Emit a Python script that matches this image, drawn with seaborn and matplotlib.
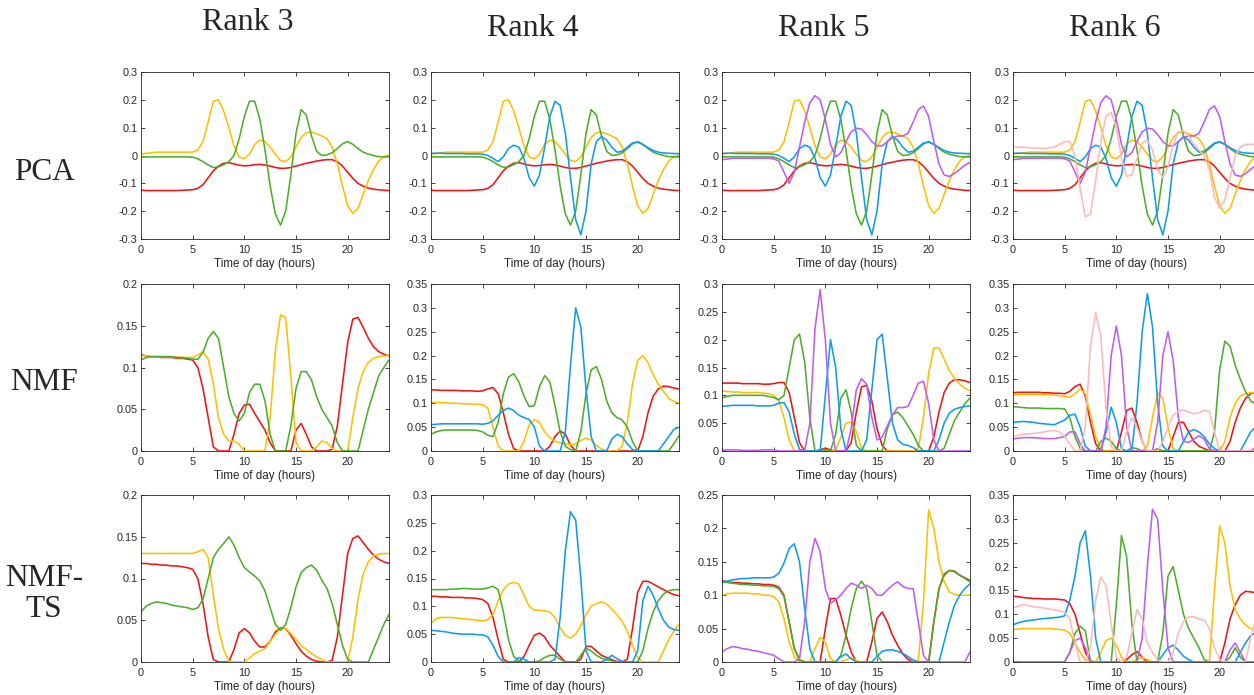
import numpy as np
import pandas as pd
import matplotlib
matplotlib.use("Agg")
import matplotlib.pyplot as plt
from matplotlib.ticker import FuncFormatter
import seaborn as sns

# sampling grid: every half hour
hours = np.arange(0, 24.5, 0.5)

# ---- PCA components (same components reused for every rank) ----
pca_red = [-0.125, -0.126, -0.126, -0.126, -0.126, -0.126, -0.126, -0.126, -0.125, -0.124,
           -0.123, -0.118, -0.105, -0.08, -0.055, -0.038, -0.028, -0.026, -0.03, -0.035,
           -0.037, -0.036, -0.033, -0.032, -0.034, -0.038, -0.043, -0.046, -0.046, -0.043,
           -0.038, -0.033, -0.028, -0.024, -0.02, -0.017, -0.015, -0.015, -0.022, -0.038,
           -0.06, -0.082, -0.1, -0.11, -0.117, -0.121, -0.123, -0.125, -0.126]
pca_yellow = [0.005, 0.008, 0.01, 0.012, 0.012, 0.012, 0.012, 0.012, 0.012, 0.012,
              0.012, 0.02, 0.05, 0.12, 0.195, 0.2, 0.16, 0.1, 0.035, -0.005,
              -0.012, 0.005, 0.04, 0.055, 0.05, 0.03, 0.005, -0.018, -0.022, -0.005,
              0.03, 0.065, 0.082, 0.084, 0.078, 0.07, 0.06, 0.03, -0.03, -0.11,
              -0.18, -0.208, -0.19, -0.14, -0.09, -0.05, -0.02, -0.005, 0.002]
pca_green = [-0.005, -0.005, -0.005, -0.005, -0.005, -0.005, -0.005, -0.005, -0.005, -0.005,
             -0.006, -0.012, -0.022, -0.034, -0.043, -0.041, -0.033, -0.022, 0.0, 0.06,
             0.14, 0.195, 0.195, 0.13, 0.02, -0.11, -0.21, -0.25, -0.2, -0.07,
             0.08, 0.165, 0.145, 0.07, 0.015, 0.0, 0.002, 0.01, 0.025, 0.042,
             0.05, 0.04, 0.025, 0.012, 0.005, 0.0, -0.004, -0.005, -0.005]
pca_blue = [0.008, 0.008, 0.008, 0.007, 0.007, 0.007, 0.007, 0.006, 0.006, 0.006,
            0.005, 0.0, -0.01, -0.022, -0.005, 0.025, 0.037, 0.03, -0.01, -0.08,
            -0.11, -0.07, 0.03, 0.14, 0.195, 0.18, 0.08, -0.08, -0.23, -0.285,
            -0.2, -0.03, 0.05, 0.068, 0.055, 0.03, 0.012, 0.015, 0.03, 0.045,
            0.048, 0.04, 0.028, 0.018, 0.012, 0.009, 0.008, 0.007, 0.007]
pca_purple = [-0.015, -0.013, -0.01, -0.01, -0.01, -0.01, -0.01, -0.01, -0.01, -0.01,
              -0.012, -0.02, -0.06, -0.1, -0.06, 0.03, 0.12, 0.19, 0.215, 0.2,
              0.13, 0.04, -0.005, 0.01, 0.05, 0.085, 0.098, 0.095, 0.075, 0.05,
              0.035, 0.035, 0.05, 0.065, 0.07, 0.07, 0.08, 0.12, 0.165, 0.178,
              0.14, 0.05, -0.03, -0.07, -0.075, -0.065, -0.05, -0.035, -0.025]
pca_pink = [0.03, 0.03, 0.03, 0.028, 0.027, 0.026, 0.025, 0.027, 0.03, 0.04,
            0.05, 0.05, 0.0, -0.12, -0.22, -0.21, -0.09, 0.05, 0.14, 0.155,
            0.1, -0.01, -0.075, -0.07, -0.01, 0.045, 0.055, 0.02, -0.05, -0.08,
            -0.04, 0.04, 0.085, 0.09, 0.07, 0.04, 0.02, 0.0, -0.05, -0.15,
            -0.19, -0.16, -0.08, 0.0, 0.03, 0.04, 0.04, 0.04, 0.04]

# ---- NMF ----
nmf3_red = [0.115, 0.114, 0.113, 0.113, 0.112, 0.112, 0.112, 0.111, 0.111, 0.11,
            0.109, 0.1, 0.075, 0.04, 0.005, 0.0, 0.0, 0.0, 0.02, 0.045,
            0.055, 0.056, 0.045, 0.035, 0.025, 0.01, 0.0, 0.0, 0.0, 0.0,
            0.025, 0.033, 0.02, 0.005, 0.0, 0.0, 0.0, 0.002, 0.03, 0.08,
            0.13, 0.158, 0.16, 0.148, 0.135, 0.125, 0.119, 0.116, 0.114]
nmf3_yellow = [0.114, 0.114, 0.113, 0.113, 0.113, 0.113, 0.113, 0.112, 0.112, 0.112,
               0.112, 0.115, 0.119, 0.11, 0.08, 0.04, 0.02, 0.012, 0.012, 0.008,
               0.0, 0.0, 0.0, 0.0, 0.0, 0.04, 0.12, 0.163, 0.16, 0.09,
               0.01, 0.0, 0.0, 0.0, 0.005, 0.012, 0.01, 0.003, 0.0, 0.0,
               0.0, 0.04, 0.075, 0.095, 0.106, 0.111, 0.113, 0.114, 0.115]
nmf3_green = [0.109, 0.112, 0.113, 0.113, 0.113, 0.113, 0.113, 0.112, 0.112, 0.111,
              0.11, 0.11, 0.118, 0.135, 0.143, 0.135, 0.1, 0.065, 0.045, 0.036,
              0.045, 0.07, 0.08, 0.08, 0.06, 0.02, 0.0, 0.0, 0.0, 0.03,
              0.075, 0.095, 0.095, 0.085, 0.065, 0.05, 0.04, 0.03, 0.01, 0.0,
              0.0, 0.0, 0.0, 0.025, 0.05, 0.07, 0.09, 0.1, 0.109]

nmf4_red = [0.128, 0.128, 0.127, 0.127, 0.127, 0.127, 0.126, 0.126, 0.126, 0.125,
            0.126, 0.13, 0.133, 0.12, 0.08, 0.035, 0.005, 0.0, 0.0, 0.0,
            0.0, 0.0, 0.0, 0.01, 0.03, 0.042, 0.035, 0.012, 0.0, 0.0,
            0.0, 0.0, 0.0, 0.0, 0.0, 0.0, 0.0, 0.0, 0.0, 0.0,
            0.0, 0.03, 0.08, 0.115, 0.13, 0.136, 0.135, 0.132, 0.13]
nmf4_yellow = [0.102, 0.102, 0.101, 0.101, 0.1, 0.1, 0.099, 0.099, 0.098, 0.098,
               0.097, 0.09, 0.05, 0.01, 0.0, 0.0, 0.0, 0.0, 0.02, 0.055,
               0.066, 0.06, 0.04, 0.028, 0.02, 0.017, 0.015, 0.013, 0.015, 0.022,
               0.027, 0.023, 0.012, 0.004, 0.001, 0.0, 0.0, 0.01, 0.06, 0.14,
               0.19, 0.2, 0.185, 0.16, 0.14, 0.125, 0.11, 0.104, 0.101]
nmf4_green = [0.035, 0.04, 0.043, 0.044, 0.044, 0.044, 0.044, 0.044, 0.044, 0.043,
              0.04, 0.033, 0.03, 0.06, 0.12, 0.155, 0.162, 0.145, 0.115, 0.093,
              0.095, 0.135, 0.158, 0.145, 0.095, 0.04, 0.01, 0.003, 0.0, 0.04,
              0.12, 0.17, 0.177, 0.15, 0.105, 0.08, 0.07, 0.065, 0.05, 0.02,
              0.0, 0.0, 0.0, 0.0, 0.0, 0.0, 0.0, 0.015, 0.032]
nmf4_blue = [0.055, 0.056, 0.057, 0.057, 0.057, 0.057, 0.057, 0.057, 0.057, 0.057,
             0.056, 0.058, 0.063, 0.075, 0.085, 0.09, 0.085, 0.075, 0.07, 0.066,
             0.05, 0.01, 0.0, 0.0, 0.0, 0.0, 0.04, 0.18, 0.3, 0.26,
             0.13, 0.03, 0.0, 0.0, 0.0, 0.025, 0.035, 0.03, 0.015, 0.003,
             0.0, 0.0, 0.0, 0.0, 0.0, 0.015, 0.03, 0.045, 0.05]

nmf5_red = [0.122, 0.122, 0.122, 0.122, 0.121, 0.121, 0.121, 0.121, 0.12, 0.12,
            0.121, 0.123, 0.123, 0.105, 0.06, 0.015, 0.0, 0.0, 0.0, 0.002,
            0.005, 0.002, 0.0, 0.0, 0.0, 0.015, 0.07, 0.115, 0.118, 0.09,
            0.04, 0.01, 0.0, 0.0, 0.0, 0.0, 0.0, 0.0, 0.0, 0.0,
            0.0, 0.025, 0.07, 0.105, 0.122, 0.128, 0.128, 0.126, 0.123]
nmf5_yellow = [0.108, 0.107, 0.106, 0.106, 0.105, 0.105, 0.105, 0.105, 0.104, 0.103,
               0.1, 0.09, 0.06, 0.02, 0.0, 0.0, 0.0, 0.0, 0.0, 0.0,
               0.0, 0.0, 0.0, 0.025, 0.05, 0.052, 0.035, 0.005, 0.0, 0.0,
               0.0, 0.0, 0.0, 0.0, 0.0, 0.0, 0.0, 0.0, 0.005, 0.06,
               0.14, 0.185, 0.185, 0.165, 0.145, 0.13, 0.12, 0.113, 0.108]
nmf5_green = [0.095, 0.098, 0.1, 0.1, 0.1, 0.1, 0.1, 0.1, 0.1, 0.098,
              0.096, 0.092, 0.1, 0.15, 0.2, 0.21, 0.16, 0.06, 0.0, 0.0,
              0.0, 0.0, 0.03, 0.095, 0.11, 0.07, 0.01, 0.0, 0.0, 0.0,
              0.0, 0.0, 0.04, 0.065, 0.07, 0.06, 0.045, 0.03, 0.01, 0.0,
              0.0, 0.0, 0.0, 0.005, 0.03, 0.055, 0.07, 0.085, 0.095]
nmf5_blue = [0.08, 0.081, 0.082, 0.082, 0.082, 0.082, 0.082, 0.081, 0.081, 0.081,
             0.082, 0.086, 0.087, 0.07, 0.03, 0.003, 0.0, 0.0, 0.0, 0.0,
             0.1, 0.2, 0.15, 0.04, 0.0, 0.0, 0.0, 0.0, 0.02, 0.11,
             0.2, 0.21, 0.13, 0.05, 0.02, 0.012, 0.01, 0.006, 0.0, 0.0,
             0.0, 0.0, 0.02, 0.05, 0.068, 0.075, 0.078, 0.08, 0.081]
nmf5_purple = [0.001, 0.002, 0.002, 0.002, 0.001, 0.001, 0.001, 0.001, 0.002, 0.002,
               0.002, 0.0, 0.0, 0.0, 0.0, 0.0, 0.0, 0.05, 0.22, 0.29,
               0.2, 0.05, 0.0, 0.0, 0.0, 0.04, 0.11, 0.13, 0.12, 0.06,
               0.02, 0.025, 0.045, 0.065, 0.078, 0.078, 0.08, 0.1, 0.122, 0.125,
               0.085, 0.02, 0.0, 0.0, 0.0, 0.0, 0.0, 0.0, 0.0]

nmf6_red = [0.122, 0.123, 0.123, 0.123, 0.123, 0.123, 0.122, 0.122, 0.121, 0.121,
            0.12, 0.125, 0.135, 0.14, 0.115, 0.06, 0.015, 0.0, 0.0, 0.0,
            0.0, 0.04, 0.085, 0.09, 0.06, 0.02, 0.0, 0.0, 0.0, 0.0,
            0.0, 0.03, 0.06, 0.06, 0.04, 0.02, 0.01, 0.005, 0.0, 0.0,
            0.0, 0.0, 0.02, 0.06, 0.09, 0.11, 0.12, 0.124, 0.125]
nmf6_yellow = [0.118, 0.118, 0.118, 0.118, 0.118, 0.118, 0.118, 0.118, 0.117, 0.116,
               0.114, 0.113, 0.12, 0.13, 0.12, 0.075, 0.03, 0.005, 0.0, 0.0,
               0.0, 0.0, 0.0, 0.0, 0.0, 0.0, 0.01, 0.07, 0.122, 0.11,
               0.05, 0.005, 0.0, 0.0, 0.0, 0.0, 0.0, 0.0, 0.0, 0.0,
               0.0, 0.02, 0.07, 0.1, 0.115, 0.12, 0.122, 0.123, 0.123]
nmf6_green = [0.093, 0.092, 0.091, 0.09, 0.09, 0.09, 0.089, 0.089, 0.089, 0.089,
              0.088, 0.07, 0.03, 0.005, 0.0, 0.0, 0.0, 0.02, 0.027, 0.02,
              0.005, 0.0, 0.0, 0.007, 0.005, 0.0, 0.0, 0.0, 0.005, 0.0,
              0.0, 0.0, 0.0, 0.0, 0.0, 0.0, 0.0, 0.0, 0.0, 0.04,
              0.17, 0.23, 0.22, 0.18, 0.15, 0.125, 0.105, 0.098, 0.092]
nmf6_blue = [0.06, 0.061, 0.062, 0.061, 0.06, 0.058, 0.057, 0.056, 0.055, 0.06,
             0.065, 0.075, 0.077, 0.05, 0.01, 0.0, 0.0, 0.0, 0.04, 0.092,
             0.06, 0.005, 0.0, 0.0, 0.1, 0.25, 0.33, 0.26, 0.1, 0.01,
             0.0, 0.0, 0.0, 0.02, 0.04, 0.045, 0.04, 0.03, 0.015, 0.005,
             0.0, 0.0, 0.0, 0.0, 0.0, 0.02, 0.04, 0.05, 0.055]
nmf6_purple = [0.025, 0.027, 0.028, 0.028, 0.028, 0.027, 0.026, 0.026, 0.026, 0.028,
               0.03, 0.04, 0.04, 0.015, 0.0, 0.0, 0.0, 0.0, 0.05, 0.2,
               0.262, 0.2, 0.05, 0.0, 0.0, 0.0, 0.0, 0.0, 0.06, 0.2,
               0.25, 0.19, 0.07, 0.02, 0.018, 0.025, 0.032, 0.025, 0.005, 0.0,
               0.0, 0.0, 0.0, 0.0, 0.0, 0.0, 0.0, 0.008, 0.016]
nmf6_pink = [0.03, 0.033, 0.035, 0.036, 0.037, 0.038, 0.04, 0.042, 0.043, 0.04,
             0.03, 0.015, 0.0, 0.0, 0.05, 0.22, 0.29, 0.24, 0.09, 0.01,
             0.0, 0.0, 0.04, 0.07, 0.05, 0.02, 0.0, 0.0, 0.0, 0.02,
             0.05, 0.075, 0.083, 0.086, 0.082, 0.078, 0.08, 0.085, 0.083, 0.04,
             0.0, 0.0, 0.0, 0.0, 0.0, 0.0, 0.0, 0.0, 0.0]

# ---- NMF-TS ----
ts3_red = [0.118, 0.118, 0.117, 0.117, 0.116, 0.116, 0.115, 0.115, 0.114, 0.113,
           0.111, 0.1, 0.07, 0.03, 0.003, 0.0, 0.0, 0.0, 0.015, 0.035,
           0.04, 0.035, 0.025, 0.018, 0.018, 0.025, 0.036, 0.041, 0.04, 0.032,
           0.022, 0.013, 0.007, 0.003, 0.001, 0.0, 0.0, 0.002, 0.03, 0.08,
           0.13, 0.148, 0.151, 0.143, 0.135, 0.128, 0.123, 0.12, 0.118]
ts3_yellow = [0.13, 0.13, 0.13, 0.13, 0.13, 0.13, 0.13, 0.13, 0.13, 0.13,
              0.13, 0.132, 0.135, 0.125, 0.08, 0.04, 0.015, 0.001, 0.0, 0.0,
              0.0, 0.005, 0.01, 0.013, 0.016, 0.025, 0.033, 0.04, 0.04, 0.034,
              0.027, 0.02, 0.015, 0.01, 0.006, 0.003, 0.0, 0.0, 0.0, 0.0,
              0.0, 0.03, 0.075, 0.105, 0.12, 0.127, 0.129, 0.13, 0.13]
ts3_green = [0.06, 0.067, 0.07, 0.072, 0.071, 0.07, 0.068, 0.067, 0.066, 0.065,
             0.063, 0.065, 0.075, 0.1, 0.125, 0.135, 0.142, 0.15, 0.14, 0.125,
             0.113, 0.108, 0.103, 0.097, 0.085, 0.065, 0.045, 0.038, 0.045, 0.065,
             0.09, 0.107, 0.113, 0.116, 0.11, 0.098, 0.088, 0.07, 0.045, 0.02,
             0.003, 0.0, 0.0, 0.0, 0.0, 0.015, 0.03, 0.045, 0.057]

ts4_red = [0.118, 0.118, 0.117, 0.117, 0.116, 0.116, 0.116, 0.115, 0.115, 0.114,
           0.112, 0.105, 0.08, 0.04, 0.005, 0.0, 0.0, 0.0, 0.01, 0.03,
           0.048, 0.052, 0.045, 0.03, 0.02, 0.01, 0.0, 0.0, 0.0, 0.005,
           0.028, 0.028, 0.02, 0.012, 0.008, 0.004, 0.001, 0.0, 0.005, 0.06,
           0.125, 0.145, 0.145, 0.14, 0.135, 0.13, 0.125, 0.121, 0.119]
ts4_yellow = [0.07, 0.078, 0.08, 0.08, 0.08, 0.079, 0.078, 0.077, 0.076, 0.075,
              0.074, 0.076, 0.085, 0.11, 0.13, 0.14, 0.143, 0.14, 0.12, 0.1,
              0.093, 0.093, 0.092, 0.09, 0.08, 0.062, 0.048, 0.043, 0.05, 0.065,
              0.085, 0.1, 0.105, 0.108, 0.104, 0.095, 0.085, 0.073, 0.055, 0.03,
              0.008, 0.0, 0.0, 0.0, 0.0, 0.02, 0.04, 0.055, 0.068]
ts4_green = [0.13, 0.13, 0.13, 0.13, 0.131, 0.131, 0.132, 0.132, 0.131, 0.131,
             0.131, 0.133, 0.136, 0.13, 0.09, 0.04, 0.01, 0.002, 0.0, 0.0,
             0.0, 0.002, 0.008, 0.012, 0.012, 0.005, 0.0, 0.0, 0.0, 0.012,
             0.025, 0.02, 0.012, 0.007, 0.004, 0.002, 0.0, 0.0, 0.0, 0.0,
             0.0, 0.02, 0.06, 0.09, 0.11, 0.122, 0.128, 0.13, 0.13]
ts4_blue = [0.057, 0.056, 0.055, 0.054, 0.052, 0.051, 0.05, 0.05, 0.05, 0.049,
            0.049, 0.045, 0.03, 0.01, 0.0, 0.0, 0.0, 0.008, 0.005, 0.0,
            0.0, 0.0, 0.0, 0.0, 0.005, 0.08, 0.2, 0.27, 0.255, 0.15,
            0.02, 0.0, 0.0, 0.0, 0.005, 0.012, 0.006, 0.001, 0.0, 0.0,
            0.02, 0.11, 0.136, 0.12, 0.095, 0.075, 0.063, 0.058, 0.057]

ts5_red = [0.122, 0.12, 0.119, 0.119, 0.118, 0.118, 0.117, 0.117, 0.116, 0.116,
           0.115, 0.112, 0.1, 0.06, 0.02, 0.003, 0.0, 0.0, 0.0, 0.0,
           0.05, 0.095, 0.095, 0.07, 0.04, 0.015, 0.0, 0.0, 0.0, 0.03,
           0.065, 0.075, 0.06, 0.04, 0.025, 0.012, 0.004, 0.0, 0.0, 0.0,
           0.0, 0.06, 0.11, 0.13, 0.137, 0.136, 0.13, 0.126, 0.122]
ts5_yellow = [0.1, 0.102, 0.103, 0.103, 0.103, 0.103, 0.102, 0.102, 0.1, 0.1,
              0.098, 0.09, 0.065, 0.03, 0.008, 0.0, 0.0, 0.0, 0.02, 0.037,
              0.03, 0.005, 0.0, 0.0, 0.003, 0.006, 0.002, 0.0, 0.0, 0.0,
              0.0, 0.0, 0.0, 0.0, 0.0, 0.0, 0.0, 0.0, 0.003, 0.09,
              0.228, 0.2, 0.15, 0.12, 0.105, 0.101, 0.1, 0.1, 0.1]
ts5_green = [0.12, 0.119, 0.118, 0.117, 0.116, 0.116, 0.115, 0.115, 0.114, 0.114,
             0.113, 0.11, 0.098, 0.06, 0.02, 0.003, 0.0, 0.0, 0.0, 0.0,
             0.0, 0.0, 0.0, 0.01, 0.04, 0.08, 0.11, 0.121, 0.11, 0.06,
             0.01, 0.0, 0.0, 0.0, 0.0, 0.0, 0.0, 0.0, 0.0, 0.0,
             0.0, 0.06, 0.11, 0.132, 0.137, 0.135, 0.13, 0.125, 0.12]
ts5_blue = [0.119, 0.121, 0.123, 0.124, 0.125, 0.125, 0.126, 0.126, 0.126, 0.126,
            0.127, 0.133, 0.148, 0.17, 0.177, 0.15, 0.08, 0.02, 0.0, 0.0,
            0.0, 0.0, 0.0, 0.008, 0.012, 0.005, 0.0, 0.0, 0.0, 0.0,
            0.008, 0.016, 0.018, 0.018, 0.016, 0.013, 0.008, 0.003, 0.0, 0.0,
            0.0, 0.0, 0.0, 0.03, 0.06, 0.085, 0.1, 0.11, 0.117]
ts5_purple = [0.015, 0.02, 0.023, 0.022, 0.02, 0.019, 0.017, 0.016, 0.014, 0.012,
              0.01, 0.005, 0.0, 0.0, 0.0, 0.005, 0.06, 0.15, 0.185, 0.165,
              0.11, 0.088, 0.093, 0.1, 0.11, 0.118, 0.115, 0.11, 0.115, 0.11,
              0.1, 0.1, 0.108, 0.115, 0.12, 0.113, 0.11, 0.11, 0.06, 0.01,
              0.0, 0.0, 0.0, 0.0, 0.0, 0.0, 0.0, 0.0, 0.015]

ts6_red = [0.138, 0.137, 0.135, 0.134, 0.133, 0.133, 0.132, 0.132, 0.132, 0.131,
           0.13, 0.122, 0.1, 0.06, 0.02, 0.002, 0.0, 0.0, 0.0, 0.0,
           0.0, 0.0, 0.005, 0.015, 0.022, 0.01, 0.0, 0.0, 0.0, 0.0,
           0.0, 0.0, 0.0, 0.0, 0.0, 0.0, 0.0, 0.0, 0.0, 0.0,
           0.0, 0.04, 0.09, 0.12, 0.14, 0.148, 0.147, 0.145, 0.143]
ts6_yellow = [0.068, 0.069, 0.07, 0.07, 0.07, 0.07, 0.07, 0.07, 0.069, 0.068,
              0.067, 0.06, 0.04, 0.02, 0.005, 0.0, 0.0, 0.02, 0.045, 0.05,
              0.035, 0.01, 0.0, 0.0, 0.005, 0.01, 0.005, 0.0, 0.0, 0.0,
              0.0, 0.0, 0.0, 0.0, 0.0, 0.0, 0.0, 0.0, 0.0, 0.15,
              0.285, 0.25, 0.16, 0.11, 0.09, 0.078, 0.07, 0.068, 0.067]
ts6_green = [0.0, 0.0, 0.0, 0.0, 0.0, 0.0, 0.0, 0.0, 0.0, 0.0,
             0.0, 0.02, 0.06, 0.075, 0.065, 0.0, 0.0, 0.0, 0.0, 0.0,
             0.12, 0.265, 0.22, 0.08, 0.0, 0.0, 0.0, 0.0, 0.0, 0.06,
             0.18, 0.2, 0.15, 0.1, 0.07, 0.05, 0.03, 0.005, 0.0, 0.0,
             0.0, 0.0, 0.01, 0.03, 0.01, 0.0, 0.0, 0.0, 0.0]
ts6_blue = [0.078, 0.082, 0.085, 0.087, 0.088, 0.09, 0.091, 0.092, 0.093, 0.094,
            0.097, 0.13, 0.18, 0.25, 0.275, 0.18, 0.05, 0.0, 0.0, 0.0,
            0.0, 0.0, 0.0, 0.0, 0.0, 0.0, 0.0, 0.0, 0.0, 0.015,
            0.03, 0.035, 0.025, 0.012, 0.005, 0.0, 0.0, 0.0, 0.0, 0.0,
            0.0, 0.0, 0.0, 0.0, 0.02, 0.04, 0.055, 0.062, 0.065]
ts6_purple = [0.0, 0.0, 0.0, 0.0, 0.0, 0.0, 0.0, 0.0, 0.0, 0.0,
              0.0, 0.02, 0.045, 0.05, 0.03, 0.0, 0.0, 0.0, 0.0, 0.0,
              0.0, 0.0, 0.0, 0.0, 0.0, 0.05, 0.2, 0.32, 0.3, 0.15,
              0.03, 0.0, 0.0, 0.0, 0.0, 0.0, 0.0, 0.0, 0.0, 0.0,
              0.0, 0.0, 0.025, 0.04, 0.02, 0.0, 0.0, 0.0, 0.0]
ts6_pink = [0.113, 0.117, 0.12, 0.118, 0.116, 0.115, 0.113, 0.111, 0.109, 0.107,
            0.104, 0.09, 0.04, 0.0, 0.0, 0.03, 0.13, 0.178, 0.16, 0.08,
            0.01, 0.0, 0.01, 0.06, 0.11, 0.09, 0.04, 0.02, 0.005, 0.0,
            0.0, 0.02, 0.06, 0.085, 0.095, 0.095, 0.09, 0.088, 0.07, 0.03,
            0.005, 0.0, 0.0, 0.0, 0.0, 0.0, 0.05, 0.09, 0.1]

col_titles = ['Rank 3', 'Rank 4', 'Rank 5', 'Rank 6']
row_titles = ['PCA', 'NMF', 'NMF-\nTS']

colors = {'red': '#F01414', 'yellow': '#FFBF00', 'green': '#4CAF2A',
          'blue': '#0E9CF0', 'purple': '#BE5CF5', 'pink': '#FFB8B8'}
names = ['red', 'yellow', 'green', 'blue', 'purple', 'pink']

pca_all = [pca_red, pca_yellow, pca_green, pca_blue, pca_purple, pca_pink]
grid = [
    [pca_all[:3], pca_all[:4], pca_all[:5], pca_all[:6]],
    [[nmf3_red, nmf3_yellow, nmf3_green],
     [nmf4_red, nmf4_yellow, nmf4_green, nmf4_blue],
     [nmf5_red, nmf5_yellow, nmf5_green, nmf5_blue, nmf5_purple],
     [nmf6_red, nmf6_yellow, nmf6_green, nmf6_blue, nmf6_purple, nmf6_pink]],
    [[ts3_red, ts3_yellow, ts3_green],
     [ts4_red, ts4_yellow, ts4_green, ts4_blue],
     [ts5_red, ts5_yellow, ts5_green, ts5_blue, ts5_purple],
     [ts6_red, ts6_yellow, ts6_green, ts6_blue, ts6_purple, ts6_pink]],
]
ylims = [
    [(-0.3, 0.3, 0.1)] * 4,
    [(0, 0.2, 0.05), (0, 0.35, 0.05), (0, 0.3, 0.05), (0, 0.35, 0.05)],
    [(0, 0.2, 0.05), (0, 0.3, 0.05), (0, 0.25, 0.05), (0, 0.35, 0.05)],
]

sns.set_style("ticks")
plt.rcParams['font.family'] = ['Liberation Sans', 'DejaVu Sans']
plt.rcParams['axes.unicode_minus'] = False

W, H = 1254, 695
fig = plt.figure(figsize=(W / 100, H / 100), dpi=100)

col_left = [141, 431, 722, 1013]
row_top = [72, 284, 495]
ax_w, ax_h = 248, 167
fmt = FuncFormatter(lambda v, p: f'{round(v, 3) + 0:g}')

for r in range(3):
    for c in range(4):
        ax = fig.add_axes([col_left[c] / W, 1 - (row_top[r] + ax_h) / H, ax_w / W, ax_h / H])
        curves = grid[r][c]
        for vals in curves:
            assert len(vals) == len(hours)
        used = names[:len(curves)]
        df = pd.DataFrame({
            'hour': np.tile(hours, len(curves)),
            'value': np.concatenate([np.asarray(v, float) for v in curves]),
            'comp': np.repeat(used, len(hours)),
        })
        sns.lineplot(data=df, x='hour', y='value', hue='comp', hue_order=used,
                     palette=colors, legend=False, linewidth=1.15, estimator=None,
                     sort=False, ax=ax)
        lo, hi, step = ylims[r][c]
        ax.set_xlim(0, 24)
        ax.set_ylim(lo, hi)
        ax.set_xticks([0, 5, 10, 15, 20])
        ax.set_yticks(np.round(np.arange(lo, hi + step / 2, step), 3))
        ax.yaxis.set_major_formatter(fmt)
        ax.tick_params(direction='in', top=True, right=True, length=3, width=0.6,
                       labelsize=7.8, colors='#262626')
        ax.tick_params(axis='x', pad=4.5)
        ax.tick_params(axis='y', pad=2.5)
        for s in ax.spines.values():
            s.set_visible(True)
            s.set_linewidth(0.6)
            s.set_color('#262626')
        ax.set_xlabel('Time of day (hours)', fontsize=8.4, color='#262626', labelpad=2)
        ax.set_ylabel('')

serif = ['Liberation Serif', 'DejaVu Serif']
title_x = [248, 533, 824, 1115]
title_y = [22, 28, 28, 28]
for t, x, y in zip(col_titles, title_x, title_y):
    fig.text(x / W, 1 - y / H, t, ha='center', va='center', fontsize=23, family=serif)

row_y = [172, 383, 594]
for t, y in zip(row_titles, row_y):
    fig.text(44 / W, 1 - y / H, t, ha='center', va='center', fontsize=22.5,
             family=serif, linespacing=1.05)

fig.savefig('out.png', dpi=100)
